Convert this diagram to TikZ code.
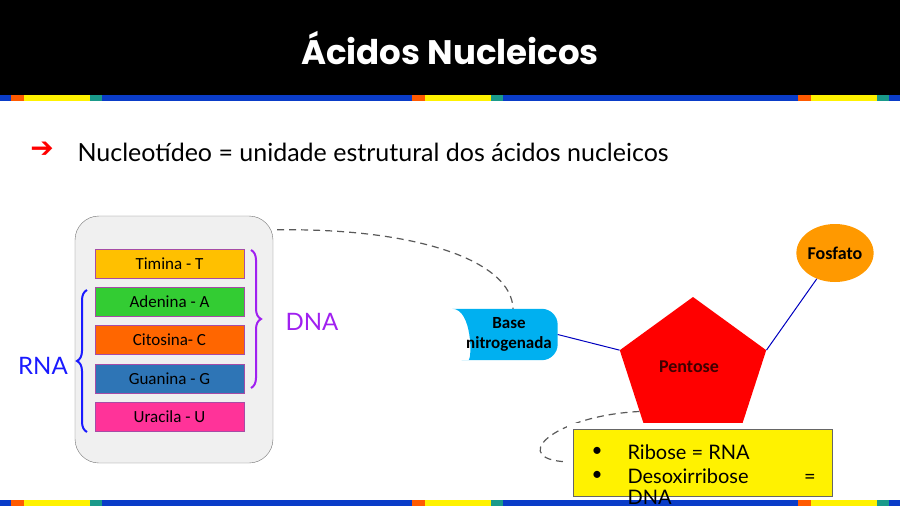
\documentclass[tikz,border=0pt]{standalone}
\usepackage{fontspec}
\setmainfont{Carlito}
\newfontfamily\titlefont{Poppins}
\newfontfamily\handfont{Lato}
\newfontfamily\symfont{DejaVu Sans}
\usetikzlibrary{shapes.geometric, decorations.pathreplacing, backgrounds}

\definecolor{bandblue}{HTML}{0A3CC8}
\definecolor{bandorange}{HTML}{FF5A00}
\definecolor{bandyellow}{HTML}{FFF200}
\definecolor{bandteal}{HTML}{1A9A8A}
\definecolor{timina}{HTML}{FFC000}
\definecolor{adenina}{HTML}{33CC33}
\definecolor{citosina}{HTML}{FF6600}
\definecolor{guanina}{HTML}{2E75B6}
\definecolor{uracila}{HTML}{FF3399}
\definecolor{dnacolor}{HTML}{A020F0}
\definecolor{rnacolor}{HTML}{1A1AFF}
\definecolor{basecolor}{HTML}{00B0F0}
\definecolor{fosfatocolor}{HTML}{FF9900}

\begin{document}
\begin{tikzpicture}[x=1pt, y=-1pt]
\tikzset{
  base/.style={
    draw=violet!70,
    line width=0.8pt,
    minimum width=149pt,
    minimum height=29pt,
    inner sep=0pt,
    font=\fontsize{17}{20}\selectfont
  },
  link/.style={
    draw=blue!75!black,
    line width=1pt
  },
  guide/.style={
    draw=black!65,
    dash pattern=on 7pt off 5pt,
    line width=1.2pt
  },
  curly/.style={
    decorate,
    decoration={brace, amplitude=10pt},
    line width=2pt
  },
  hand/.style={
    font=\handfont\fontsize{24}{28}\selectfont
  },
  boxtext/.style={
    font=\handfont\fontsize{20}{24}\selectfont,
    anchor=base west
  },
  bold/.style={
    font=\bfseries\fontsize{18}{20}\selectfont
  }
}

\useasboundingbox (0,0) rectangle (900,506);

% Header
\fill[black] (0,0) rectangle (900,95);
\node (title) [text=white, font=\titlefont\bfseries\fontsize{34}{40}\selectfont] at (450,48) {Ácidos Nucleicos};
\fill[bandblue] (0,95) rectangle (900,101);
\foreach \x in {11,412,798} {
  \fill[bandorange] (\x,95) rectangle ++(13,6);
  \fill[bandyellow] (\x+13,95) rectangle ++(66,6);
  \fill[bandteal] (\x+79,95) rectangle ++(12,6);
}

% Subtitle
\node (arrow) [text=red, font=\symfont\bfseries\fontsize{28}{30}\selectfont] at (42,150) {➔};
\node (lema) [font=\handfont\fontsize{25}{30}\selectfont, anchor=west] at (74,152) {Nucleotídeo = unidade estrutural dos ácidos nucleicos};

% Bases
\node (panel) [draw=black!55, fill=black!6, rounded corners=24pt, minimum width=198pt, minimum height=247pt] at (174,339.5) {};
\node (timina) [base, fill=timina] at (169.5,263.5) {Timina - T};
\node (adenina) [base, fill=adenina] at (169.5,301.5) {Adenina - A};
\node (citosina) [base, fill=citosina] at (169.5,340) {Citosina- C};
\node (guanina) [base, fill=guanina] at (169.5,378.5) {Guanina - G};
\node (uracila) [base, fill=uracila] at (169.5,417) {Uracila - U};

\draw[curly, draw=dnacolor] (251,250) -- (251,388);
\node (dna) [hand, text=dnacolor, anchor=west] at (282,322) {DNA};
\draw[curly, draw=rnacolor] (87,432) -- (87,290);
\node (rna) [hand, text=rnacolor] at (43,366) {RNA};

% Nucleotide
\node (basen) [bold, font=\bfseries\fontsize{17}{20}\selectfont, align=center, minimum width=105pt, minimum height=51pt, inner sep=0pt] at (505,334.5) {\hspace*{8pt}Base\\\hspace*{8pt}nitrogenada};
\begin{pgfonlayer}{background}
\fill[basecolor] (basen.north west) [rounded corners=16pt] -- (basen.north east) -- (basen.south east) -- (basen.south west) [sharp corners] .. controls ([xshift=20]basen.south west) and ([xshift=20]basen.north west) .. cycle;
\end{pgfonlayer}

\node (pentose) [regular polygon, regular polygon sides=5, fill=red, minimum size=154pt, inner sep=0pt] at (693,374) {};
\node (pentlabel) [bold, text=black!75!red] at (689,367) {Pentose};
\node (fosfato) [ellipse, fill=fosfatocolor, minimum width=62pt, minimum height=58pt, inner sep=0pt, bold] at (835,253) {Fosfato};

\draw[link] (basen.east) -- (pentose.corner 2);
\draw[link] (pentose.corner 5) -- (fosfato);

\draw[guide] ([shift={(4,14)}]panel.north east) .. controls (420,228) and (512,262) .. ([xshift=8]basen.north);

% Sugars
\draw[guide] (pentose.215) .. controls (550,416) and (505,462) .. (573,462);
\node (acucar) [fill=yellow, draw=black!60, minimum width=259pt, minimum height=67pt, preaction={draw=white, line width=12pt}] at (702.5,462.5) {};

\fill[bandblue] (0,500) rectangle (900,506);
\foreach \x in {11,412,798} {
  \fill[bandorange] (\x,500) rectangle ++(13,6);
  \fill[bandyellow] (\x+13,500) rectangle ++(66,6);
  \fill[bandteal] (\x+79,500) rectangle ++(12,6);
}

\node (dot1) [font=\fontsize{20}{20}\selectfont] at (597,452) {\textbullet};
\node (dot2) [font=\fontsize{20}{20}\selectfont] at (597,476) {\textbullet};
\node (ribose) [boxtext] at (624,459) {Ribose = RNA};
\node (desoxi) [boxtext] at (624,483) {Desoxirribose};
\node (igual) [boxtext, anchor=base] at (810,483) {=};
\node (dnaline) [boxtext] at (624,504) {DNA};
\end{tikzpicture}
\end{document}
